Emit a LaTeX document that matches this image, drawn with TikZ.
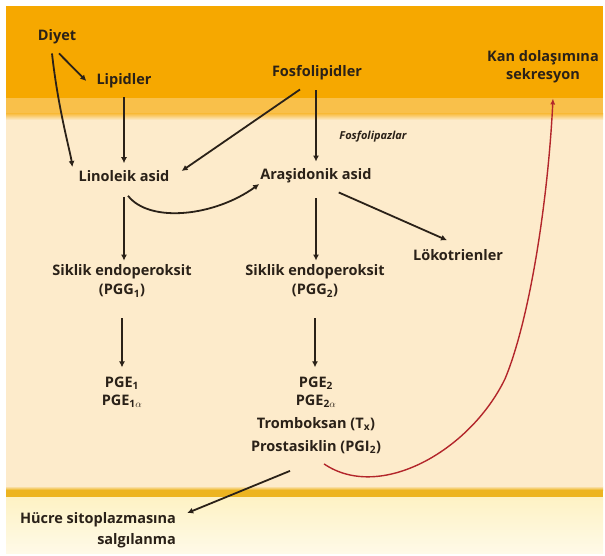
\documentclass[tikz,border=0pt]{standalone}
\usepackage{fontspec}
\setmainfont{Open Sans}
\usetikzlibrary{arrows.meta}
\definecolor{bandorange}{HTML}{F6A800}
\definecolor{bandlight}{HTML}{F9C04A}
\definecolor{cream}{HTML}{FDEBCB}
\definecolor{goldline}{HTML}{EDB420}
\definecolor{paleyellow}{HTML}{FEF2C4}
\definecolor{inkdark}{HTML}{2A2118}
\definecolor{secred}{HTML}{B3262B}
\tikzstyle{term}=[font=\bfseries\fontsize{14.5}{18}\selectfont, text=inkdark, align=center, inner sep=1pt]
\tikzstyle{flow}=[-{Latex[length=6pt,width=6pt]}, line width=1.8pt, draw=inkdark]
\tikzstyle{secr}=[-{Latex[length=6pt,width=5pt]}, line width=1.4pt, draw=secred]

\begin{document}
\begin{tikzpicture}[x=1pt,y=-1pt]
	\useasboundingbox (0,0) rectangle (605,556);

	% zones of the cell
	\fill[bandorange] (6,6) rectangle (603,98);
	\fill[bandlight] (6,98) rectangle (603,114);
	\shade[top color=bandlight, bottom color=cream] (6,114) rectangle (603,120);
	\fill[cream] (6,120) rectangle (603,486);
	\shade[top color=cream, bottom color=goldline] (6,486) rectangle (603,490);
	\fill[goldline] (6,490) rectangle (603,497);
	\shade[top color=paleyellow, bottom color=paleyellow!40!white] (6,497) rectangle (603,553);

	\node[term](diyet) at (57,37){Diyet};
	\node[term](lipid) at (124,81){Lipidler};
	\node[term](fosfo) at (317,73){Fosfolipidler};
	\node[term, font=\bfseries\fontsize{14.5}{18}\selectfont](kan) at (543,67){Kan dolaşımına\\sekresyon};
	\node[term, font=\bfseries\itshape\fontsize{11}{12}\selectfont](lipaz) at (373,137){Fosfolipazlar};
	\node[term](linol) at (124,176){Linoleik asid};
	\node[term](arasid) at (316,176){Araşidonik asid};
	\node[term](lokot) at (458,255){Lökotrienler};
	\node[term, font=\bfseries\fontsize{14.5}{19}\selectfont](sik1) at (122,281){Siklik endoperoksit\\(PGG\textsubscript{1})};
	\node[term, font=\bfseries\fontsize{14.5}{19}\selectfont](sik2) at (315,281){Siklik endoperoksit\\(PGG\textsubscript{2})};
	\node[term](pge1) at (122,392){PGE\textsubscript{1}\\PGE\textsubscript{1$\alpha$}};
	\node[term](pge2) at (316,392){PGE\textsubscript{2}\\PGE\textsubscript{2$\alpha$}};
	\node[term](tromb) at (316,424){Tromboksan (T\textsubscript{x})};
	\node[term](prost) at (316,447){Prostasiklin (PGI\textsubscript{2})};
	\node[term, align=right, font=\bfseries\fontsize{14.5}{21}\selectfont](hucre) at (98,530){Hücre sitoplazmasına\\salgılanma};

	\draw[flow] ([xshift=2pt,yshift=-8pt]diyet.south) -- ([xshift=-9pt]lipid.west);
	\draw[flow] ([xshift=-5pt,yshift=-8pt]diyet.south) .. controls +(6,55) and +(-2,-15) .. ([xshift=-5pt,yshift=9pt]linol.west);
	\draw[flow, shorten <=8pt, shorten >=6pt] (lipid.south) -- (lipid.south |- linol.north);
	\draw[flow] ([xshift=-17pt,yshift=-8pt]fosfo.south) -- ([xshift=11pt,yshift=5pt]linol.east);
	\draw[flow, shorten <=9pt, shorten >=6pt] (fosfo.south -| arasid.north) -- (arasid.north);
	\draw[flow] ([xshift=4pt,yshift=-13pt]linol.south) .. controls +(22,28) and +(-44,32) .. ([xshift=0pt,yshift=-8pt]arasid.west);
	\draw[flow, shorten <=14pt, shorten >=3pt] (linol.south) -- (linol.south |- sik1.north);
	\draw[flow, shorten <=14pt, shorten >=3pt] (arasid.south) -- (arasid.south |- sik2.north);
	\draw[flow] ([xshift=-34pt,yshift=-8pt]arasid.south east) -- ([xshift=-11pt,yshift=8pt]lokot.north);
	\draw[flow, shorten <=20pt, shorten >=8pt] (sik1.south) -- (sik1.south |- pge1.north);
	\draw[flow, shorten <=20pt, shorten >=8pt] (sik2.south) -- (sik2.south |- pge2.north);
	\draw[flow] ([xshift=-26pt,yshift=-16pt]prost.south) -- ([xshift=10pt,yshift=-2pt]hucre.north east);
	\draw[secr] ([xshift=8pt,yshift=-9pt]prost.south) .. controls +(56,38) and +(-35,72) .. +(181,-85) .. controls +(25,-60) and +(-5,101) .. ([xshift=10pt,yshift=-14pt]kan.south);
\end{tikzpicture}
\end{document}
